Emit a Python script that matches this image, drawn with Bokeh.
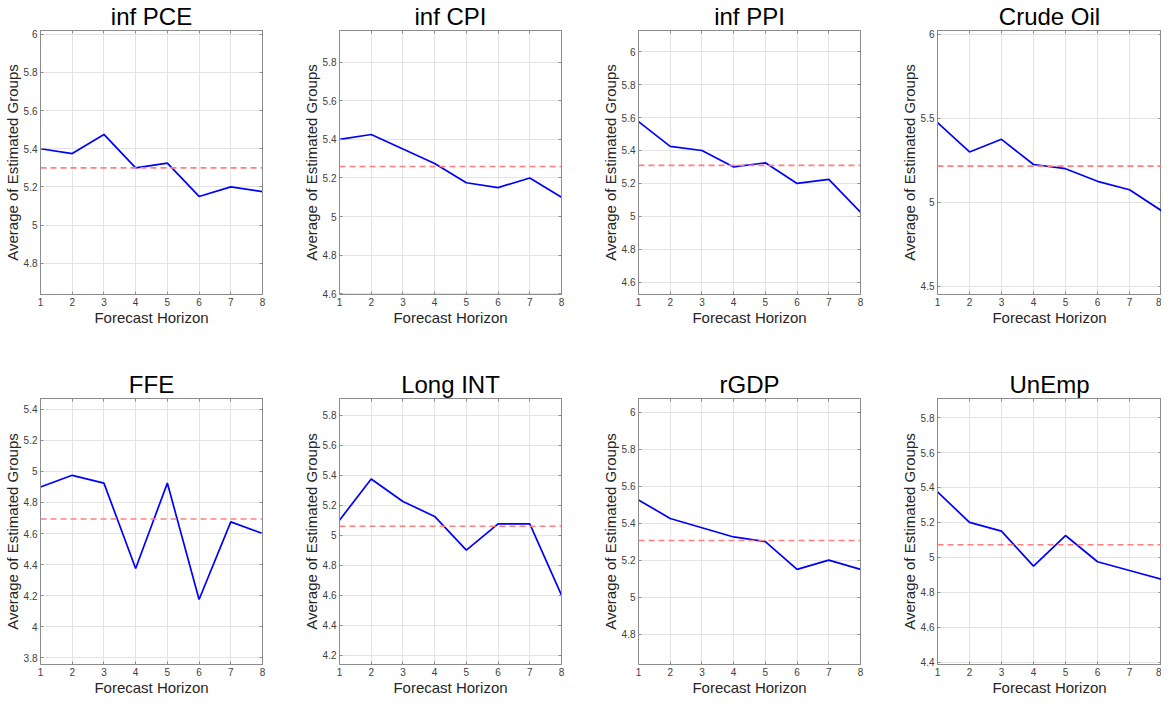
from bokeh.plotting import figure
from bokeh.layouts import row, column
from bokeh.models import (Range1d, FixedTicker, CustomJSTickFormatter, Span, LinearAxis,
                          CustomLabelingPolicy)
from bokeh.embed import file_html
from bokeh.resources import INLINE

# ---------------- data ----------------
horizon = [1, 2, 3, 4, 5, 6, 7, 8]
titles = ["inf PCE", "inf CPI", "inf PPI", "Crude Oil", "FFE", "Long INT", "rGDP", "UnEmp"]

inf_pce = [5.400, 5.375, 5.475, 5.300, 5.325, 5.150, 5.200, 5.175]
inf_cpi = [5.400, 5.425, 5.350, 5.275, 5.175, 5.150, 5.200, 5.100]
inf_ppi = [5.575, 5.425, 5.400, 5.300, 5.325, 5.200, 5.225, 5.025]
crude_oil = [5.475, 5.300, 5.375, 5.225, 5.200, 5.125, 5.075, 4.950]
ffe = [4.900, 4.975, 4.925, 4.375, 4.925, 4.175, 4.675, 4.600]
long_int = [5.100, 5.375, 5.225, 5.125, 4.900, 5.075, 5.075, 4.600]
rgdp = [5.525, 5.425, 5.375, 5.325, 5.300, 5.150, 5.200, 5.150]
unemp = [5.375, 5.200, 5.150, 4.950, 5.125, 4.975, 4.925, 4.875]

series = [inf_pce, inf_cpi, inf_ppi, crude_oil, ffe, long_int, rgdp, unemp]

y_limits = [(4.636, 6.020), (4.596, 5.964), (4.526, 6.128), (4.451, 6.023),
            (3.756, 5.470), (4.137, 5.912), (4.636, 6.073), (4.387, 5.909)]
y_ticks = [
    [4.8, 5, 5.2, 5.4, 5.6, 5.8, 6],
    [4.6, 4.8, 5, 5.2, 5.4, 5.6, 5.8],
    [4.6, 4.8, 5, 5.2, 5.4, 5.6, 5.8, 6],
    [4.5, 5, 5.5, 6],
    [3.8, 4, 4.2, 4.4, 4.6, 4.8, 5, 5.2, 5.4],
    [4.2, 4.4, 4.6, 4.8, 5, 5.2, 5.4, 5.6, 5.8],
    [4.8, 5, 5.2, 5.4, 5.6, 5.8, 6],
    [4.4, 4.6, 4.8, 5, 5.2, 5.4, 5.6, 5.8],
]

FONT = "Liberation Sans"
fmt_code = "return String(Math.round(tick*100)/100);"


def style_axis(ax):
    ax.axis_line_color = "#8c8c8c"
    ax.major_tick_in = 3
    ax.major_tick_out = 0
    ax.minor_tick_in = 0
    ax.minor_tick_out = 0
    ax.major_tick_line_color = "#8c8c8c"
    ax.major_label_text_font = FONT
    ax.major_label_text_color = "#404040"
    ax.major_label_text_font_size = "10px"
    ax.major_label_standoff = 3
    ax.axis_label_text_font = FONT
    ax.axis_label_text_font_style = "normal"
    ax.axis_label_text_font_size = "15px"
    ax.axis_label_text_color = "#262626"
    ax.axis_label_standoff = 0


def box_axis(ticks):
    # axis drawn only for its inward tick marks (MATLAB box style), no labels
    ax = LinearAxis(ticker=FixedTicker(ticks=ticks),
                    major_label_policy=CustomLabelingPolicy(code="return null"))
    style_axis(ax)
    ax.major_label_text_font_size = "0px"
    ax.major_label_standoff = 0
    return ax


def make_panel(i, top_row, last_col):
    width = 264 if last_col else 299
    height = 334 if top_row else 365
    p = figure(width=width, height=height, output_backend="svg", toolbar_location=None,
               x_range=Range1d(horizon[0], horizon[-1]),
               y_range=Range1d(*y_limits[i]),
               min_border_left=34, min_border_right=0 if last_col else 37,
               min_border_top=28 if top_row else 64,
               min_border_bottom=40 if top_row else 35,
               title=titles[i])
    p.title.text_font = FONT
    p.title.text_font_size = "24px"
    p.title.text_font_style = "normal"
    p.title.text_color = "#000000"
    p.title.align = "center"
    p.title.standoff = 1

    p.outline_line_color = "#8c8c8c"
    p.outline_line_width = 1
    p.background_fill_color = "#ffffff"
    p.border_fill_color = "#ffffff"

    p.xaxis.ticker = FixedTicker(ticks=horizon)
    p.yaxis.ticker = FixedTicker(ticks=y_ticks[i])
    p.yaxis.formatter = CustomJSTickFormatter(code=fmt_code)
    p.xaxis.axis_label = "Forecast Horizon"
    p.yaxis.axis_label = "Average of Estimated Groups"
    for ax in p.xaxis + p.yaxis:
        style_axis(ax)

    p.add_layout(box_axis(horizon), "above")
    p.add_layout(box_axis(y_ticks[i]), "right")

    p.xgrid.ticker = FixedTicker(ticks=horizon)
    p.ygrid.ticker = FixedTicker(ticks=y_ticks[i])
    p.xgrid.grid_line_color = "#e4e4e4"
    p.ygrid.grid_line_color = "#e4e4e4"
    p.xgrid.grid_line_width = 1
    p.ygrid.grid_line_width = 1

    vals = series[i]
    mean_val = sum(vals) / len(vals)
    p.add_layout(Span(location=mean_val, dimension="width", line_color="#ff7f7f",
                      line_width=1.6, line_dash="6 4"))
    p.line(horizon, vals, line_color="#0000ff", line_width=1.7)
    return p


panels = []
for i in range(8):
    panels.append(make_panel(i, top_row=(i < 4), last_col=(i % 4 == 3)))

layout = column(row(*panels[:4], spacing=0), row(*panels[4:], spacing=0), spacing=0)

open("out.html", "w").write(file_html(layout, INLINE))
